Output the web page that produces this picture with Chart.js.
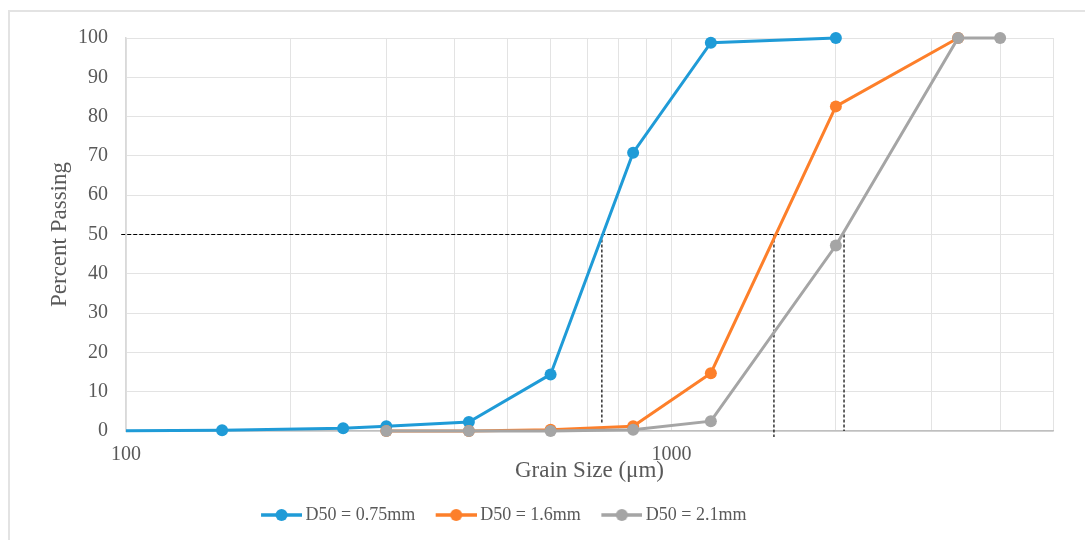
<!DOCTYPE html>
<html><head><meta charset="utf-8">
<script src="https://cdn.jsdelivr.net/npm/chart.js@4.4.0/dist/chart.umd.min.js"></script>
<style>
html,body{margin:0;padding:0;background:#fff;width:1085px;height:540px;overflow:hidden}
#frame{position:absolute;left:8px;top:10px;width:1200px;height:700px;border-top:2px solid #e3e3e3;border-left:2px solid #e3e3e3}
canvas{position:absolute;left:0;top:0}
</style></head><body>
<div id="frame"></div>
<canvas id="c" width="1085" height="540"></canvas>
<script>
// ---- data ----
const grainSizes = [75, 150, 250, 300, 425, 600, 850, 1180, 2000, 3350, 4000];
const passD075 = [0, 0.2, 0.7, 1.2, 2.3, 14.4, 70.8, 98.8, 100, null, null];
const passD16  = [null, null, null, 0, 0, 0.3, 1.2, 14.7, 82.6, 100, null];
const passD21  = [null, null, null, 0, 0, 0, 0.3, 2.5, 47.2, 100, 100];
const seriesNames = ['D50 = 0.75mm', 'D50 = 1.6mm', 'D50 = 2.1mm'];
const d50Sizes = [745, 1540, 2070];
const d50Bottoms = [2, -1.5, 0];
const d50Level = 50;
const d50LineStart = 98;
const xGridValues = [100, 200, 300, 400, 500, 600, 700, 800, 900, 1000, 2000, 3000, 4000, 5000];
const xLabelValues = [100, 1000];
const yTickValues = [0, 10, 20, 30, 40, 50, 60, 70, 80, 90, 100];

// ---- style ----
const colors = ['#1f9bd7', '#fd7f2a', '#a5a5a5'];
const FONT = "'Liberation Serif', 'Times New Roman', serif";
const TXT = '#595959';
const BOXW = 42;

function pairs(ys) {
  const out = [];
  ys.forEach((v, i) => { if (v !== null) out.push({x: grainSizes[i], y: v}); });
  return out;
}
function legendIcon(color) {
  const c = document.createElement('canvas');
  c.width = BOXW + 11; c.height = 14;
  const g = c.getContext('2d');
  const x1 = c.width - 41;
  g.strokeStyle = color; g.lineWidth = 3.5;
  g.beginPath(); g.moveTo(x1, 7); g.lineTo(c.width, 7); g.stroke();
  g.fillStyle = color; g.beginPath(); g.arc(x1 + 20.5, 7, 6, 0, Math.PI * 2); g.fill();
  return c;
}
const icons = colors.map(legendIcon);
const seriesData = [passD075, passD16, passD21];
const orders = [3, 2, 1];

const datasets = seriesData.map((ys, i) => ({
  label: seriesNames[i],
  data: pairs(ys),
  borderColor: colors[i],
  backgroundColor: colors[i],
  pointBackgroundColor: colors[i],
  pointBorderColor: colors[i],
  borderWidth: 3,
  pointRadius: 6,
  pointBorderWidth: 0,
  pointHoverRadius: 6,
  tension: 0,
  order: orders[i],
  clip: {left: 0, top: 10, right: 10, bottom: 10}
}));
datasets.push({
  label: 'h50',
  data: [{x: d50LineStart, y: d50Level}, {x: d50Sizes[2], y: d50Level}],
  borderColor: '#000', borderWidth: 1.2, borderDash: [4, 2], pointRadius: 0, order: 10, clip: false
});
d50Sizes.forEach((s, i) => {
  datasets.push({
    label: 'v' + i,
    data: [{x: s, y: d50Level}, {x: s, y: d50Bottoms[i]}],
    borderColor: '#000', borderWidth: 1.2, borderDash: [3, 2], pointRadius: 0, order: 10, clip: false
  });
});

const legendShift = {
  id: 'legendShift',
  afterLayout(chart) { const l = chart.legend; if (l) { l.left -= 26; l.right -= 26; } }
};

new Chart(document.getElementById('c'), {
  type: 'line',
  data: {datasets},
  plugins: [legendShift],
  options: {
    responsive: false, animation: false, devicePixelRatio: 1,
    layout: {padding: {left: 0, right: 32, top: 38, bottom: 6}},
    plugins: {
      tooltip: {enabled: false},
      legend: {
        position: 'bottom',
        labels: {
          usePointStyle: true, pointStyleWidth: BOXW, padding: 14,
          font: {family: FONT, size: 18}, color: TXT,
          generateLabels: () => seriesNames.map((n, i) => ({
            text: n, pointStyle: icons[i], fillStyle: colors[i], strokeStyle: colors[i],
            lineWidth: 0, hidden: false, datasetIndex: i, fontColor: TXT
          }))
        }
      }
    },
    scales: {
      x: {
        type: 'logarithmic', min: 100, max: 5000,
        afterBuildTicks: (s) => { s.ticks = xGridValues.map(v => ({value: v})); },
        afterFit: (s) => { s.height = 61; },
        ticks: {
          autoSkip: false, maxRotation: 0, minRotation: 0, padding: 12,
          font: {family: FONT, size: 20}, color: TXT,
          callback: (v) => xLabelValues.includes(v) ? String(v) : ''
        },
        grid: {color: '#e3e3e3', drawTicks: false},
        border: {color: '#bfbfbf', width: 1.5},
        title: {display: true, text: 'Grain Size (μm)', font: {family: FONT, size: 23}, color: TXT, padding: {top: 0, bottom: 7}}
      },
      y: {
        min: 0, max: 100,
        afterBuildTicks: (s) => { s.ticks = yTickValues.map(v => ({value: v})); },
        afterFit: (s) => { s.width = 126; },
        ticks: {padding: 18, font: {family: FONT, size: 20}, color: TXT},
        grid: {color: '#e3e3e3', drawTicks: false},
        border: {color: '#d9d9d9', width: 1.5},
        title: {display: true, text: 'Percent Passing', font: {family: FONT, size: 23}, color: TXT, padding: {top: 46, bottom: 0}}
      }
    }
  }
});
</script>
</body></html>
